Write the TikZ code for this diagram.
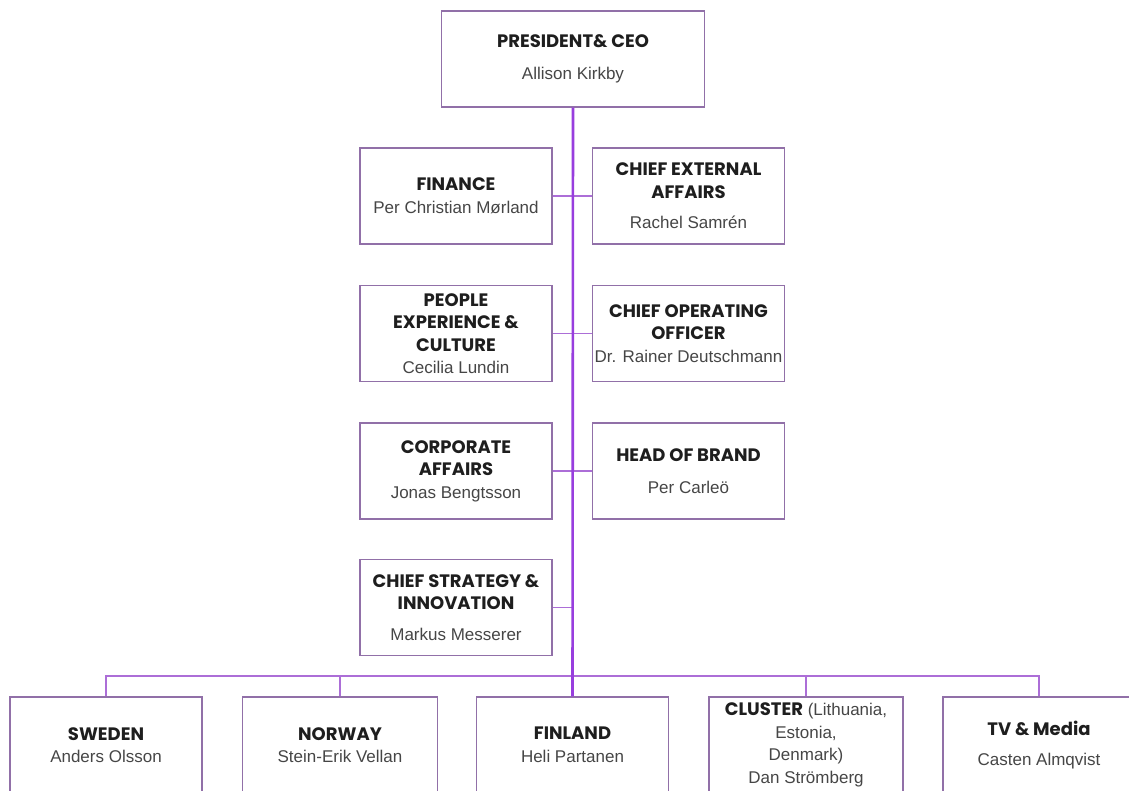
\documentclass[tikz,border=0pt]{standalone}
\usepackage{fontspec}
\setmainfont{Liberation Sans}
\newfontfamily\headfont{Poppins}
\definecolor{boxline}{RGB}{145,112,168}
\definecolor{linkpurple}{RGB}{172,110,215}
\definecolor{spinepurple}{RGB}{152,62,222}
\definecolor{titlegray}{RGB}{30,30,30}
\definecolor{namegray}{RGB}{70,70,70}
\newcommand\unithead[1]{{\headfont\bfseries\fontsize{18}{22.5}\selectfont\color{titlegray}#1}}
\tikzset{
  unit/.style={draw=boxline, line width=1.3pt, minimum width=192pt, minimum height=96pt,
    align=center, inner sep=2pt, text=namegray, font=\fontsize{17}{22.5}\selectfont},
  topunit/.style={unit, minimum width=263pt},
  link/.style={draw=linkpurple, line width=1.3pt},
  spine/.style={draw=spinepurple, line width=2.6pt}
}
\begin{document}
\begin{tikzpicture}[x=1pt,y=-1pt]
  \useasboundingbox[fill=white] (0,0) rectangle (1129,790);
  \clip (0,0) rectangle (1129,790);

  % top
  \node[topunit] (ceo) at (573,59) {\unithead{PRESIDENT\& CEO}\\[9pt]Allison Kirkby};

  % staff, left column and right column
  \node[unit] (fin) at (456,196) {\unithead{FINANCE}\\Per Christian  Mørland};
  \node[unit] (ext) at (688.5,196) {\unithead{CHIEF EXTERNAL}\\\unithead{AFFAIRS}\\[8pt]Rachel Samrén};

  \node[unit] (ppl) at (456,333.5) {\unithead{PEOPLE}\\\unithead{EXPERIENCE \&}\\\unithead{CULTURE}\\Cecilia Lundin};
  \node[unit] (coo) at (688.5,333.5) {\unithead{CHIEF OPERATING}\\\unithead{OFFICER}\\Dr. Rainer Deutschmann};

  \node[unit] (corp) at (456,471) {\unithead{CORPORATE}\\\unithead{AFFAIRS}\\Jonas Bengtsson};
  \node[unit] (brand) at (688.5,471) {\unithead{HEAD OF BRAND}\\[9pt]Per Carleö};

  \node[unit] (strat) at (456,607.5) {\unithead{CHIEF STRATEGY \&}\\\unithead{INNOVATION}\\[8pt]Markus Messerer};

  % countries
  \node[unit] (swe) at (106,745) {\unithead{SWEDEN}\\Anders Olsson};
  \node[unit, minimum width=195pt] (nor) at (340,745) {\unithead{NORWAY}\\Stein-Erik Vellan};
  \node[unit] (finl) at (572.5,745) {\unithead{FINLAND}\\Heli Partanen};
  \node[unit, minimum width=194pt] (clu) at (806,745) {\unithead{CLUSTER} (Lithuania,\\Estonia,\\Denmark)\\Dan Strömberg};
  \node[unit] (tv) at (1039,745) {\unithead{TV \& Media}\\[8pt]Casten Almqvist};

  \coordinate (bus) at (573,676);

  % lines
  \draw[link] (fin.east) -- (ext.west);
  \draw[link] (ppl.east) -- (coo.west);
  \draw[link] (corp.east) -- (brand.west);
  \draw[link] (strat.east) -- (strat.east -| ceo.south);

  \draw[link] (swe.north) -- (swe.north |- bus) -- (tv.north |- bus) -- (tv.north);
  \foreach \n in {nor,clu} {
    \draw[link] (\n.north) -- (\n.north |- bus);
  }
  \draw[spine] (ceo.south) -- (finl.north);
\end{tikzpicture}
\end{document}
